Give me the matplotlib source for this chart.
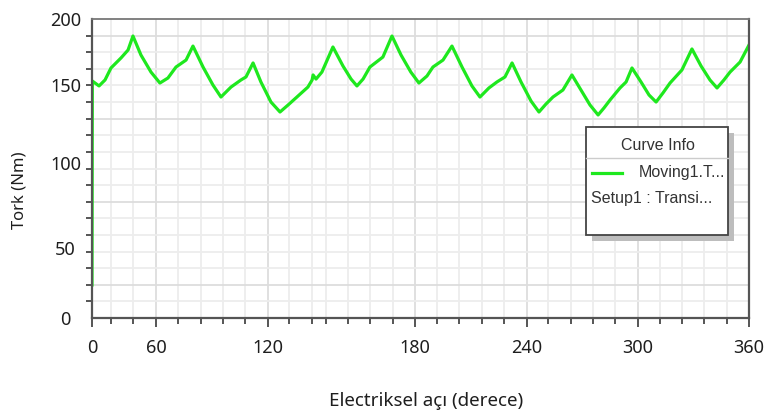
import numpy as np
import matplotlib.pyplot as plt
from matplotlib.patches import Rectangle
from matplotlib.lines import Line2D
from matplotlib.ticker import FixedLocator, NullFormatter

# electrical angle (deg) and torque (Nm), first sample is the start-up value
angle = [0.0, 0.3, 6.6, 12.2, 17.8, 27.2, 33.8, 38.4, 45.9, 55.3, 62.1, 66.4,
         70.7, 76.1, 79.8, 85.2, 90.5, 94.8, 100.2, 105.5, 108.2, 112.0, 116.2,
         121.2, 124.9, 128.2, 131.8, 136.3, 138.0, 138.4, 139.6, 142.0, 146.5,
         150.6, 153.9, 156.3, 158.8, 161.6, 166.9, 170.6, 174.3, 178.3, 182.1,
         186.4, 189.6, 195.0, 199.8, 205.2, 210.5, 214.8, 219.6, 223.9, 228.2,
         232.0, 236.8, 242.2, 246.5, 250.3, 254.1, 259.5, 264.4, 269.3, 274.2,
         278.6, 281.8, 285.1, 290.5, 293.8, 297.0, 301.9, 306.2, 310.0, 313.7,
         317.5, 323.9, 329.3, 334.2, 339.0, 342.8, 346.5, 349.8, 355.2, 360.0]
torque = [23.6, 153.0, 149.4, 153.8, 162.9, 170.5, 176.5, 187.1, 172.7, 159.8,
          151.5, 155.3, 163.6, 168.9, 179.5, 163.6, 150.0, 142.3, 148.7, 153.8,
          156.1, 166.7, 152.3, 139.1, 132.7, 137.2, 142.3, 148.7, 153.8, 157.6,
          154.5, 159.8, 178.8, 164.4, 154.5, 149.4, 154.5, 163.6, 171.2, 187.1,
          172.7, 159.8, 151.5, 156.8, 163.6, 168.9, 179.5, 163.6, 149.4, 142.3,
          148.1, 152.3, 156.1, 166.7, 152.3, 139.7, 132.7, 137.8, 142.3, 146.8,
          157.6, 146.8, 137.2, 130.8, 135.3, 140.4, 148.1, 152.3, 162.9, 152.3,
          143.6, 139.1, 144.9, 151.5, 161.4, 177.3, 164.4, 153.8, 148.1, 153.8,
          159.8, 167.4, 180.3]

x_ticks = [0, 60, 120, 180, 240, 300, 360]
y_ticks = [0, 50, 100, 150, 200]
legend_title = "Curve Info"
series_label = "Moving1.T..."
setup_label = "Setup1 : Transi..."

GREEN = '#1ee81e'
W, H = 769, 413

plt.rcParams['font.family'] = ['Noto Sans', 'DejaVu Sans']

fig = plt.figure(figsize=(W / 100, H / 100), dpi=100)
ax = fig.add_axes([92 / W, 1 - 318 / H, (749 - 92) / W, (318 - 19) / H])

# the labelled ticks are not evenly spaced, so map them onto pixel offsets
x_px = [0, 64, 176, 323, 435, 545.5, 657]
y_px = [0, 70, 155, 233, 299]


def fwd_x(v):
    return np.interp(v, x_ticks, x_px)


def inv_x(p):
    return np.interp(p, x_px, x_ticks)


def fwd_y(v):
    return np.interp(v, y_ticks, y_px)


def inv_y(p):
    return np.interp(p, y_px, y_ticks)


ax.set_xscale('function', functions=(fwd_x, inv_x))
ax.set_yscale('function', functions=(fwd_y, inv_y))
ax.set_xlim(0, 360)
ax.set_ylim(0, 200)

# background grid (pixel offsets from the lower-left corner)
x_minor_px = [19, 41.3, 86.3, 108.7, 130.7, 153, 197.3, 219.7, 234, 256.3, 278,
              300.7, 345.3, 367.3, 389.7, 412, 456.3, 478.7, 501.3, 523, 568,
              590.3, 612.3, 634.7]
y_grid_px = [i * 299 / 18 for i in range(19)]
x_minor = inv_x(np.array(x_minor_px))
y_grid = inv_y(np.array(y_grid_px))

for xv in x_minor:
    ax.axvline(xv, color='#ededed', lw=1.3, zorder=0)
for xv in x_ticks[1:-1]:
    ax.axvline(xv, color='#dddddd', lw=1.3, zorder=0)
for i, yv in enumerate(y_grid[1:-1], start=1):
    shade = '#dddddd' if i in (2, 7, 12, 17) else '#ededed'
    ax.axhline(yv, color=shade, lw=1.3, zorder=0)

ax.plot(angle, torque, color=GREEN, lw=2.3, zorder=2)

ax.xaxis.set_major_locator(FixedLocator(x_ticks))
ax.xaxis.set_minor_locator(FixedLocator(x_minor))
ax.yaxis.set_major_locator(FixedLocator(y_ticks))
ax.yaxis.set_minor_locator(FixedLocator(y_grid))
ax.xaxis.set_minor_formatter(NullFormatter())
ax.yaxis.set_minor_formatter(NullFormatter())

ax.tick_params(axis='x', which='major', length=6.5, width=1.4, color='#555555',
               labelsize=13, labelcolor='#1e1e1e', pad=8.5)
ax.tick_params(axis='x', which='minor', length=4, width=1.4, color='#555555')
ax.tick_params(axis='y', which='major', length=0, labelsize=13,
               labelcolor='#1e1e1e', pad=19)
ax.tick_params(axis='y', which='minor', length=4.3, width=1.4, color='#555555')
for lab in ax.get_yticklabels():
    lab.set_horizontalalignment('center')

for side in ['left', 'bottom', 'right']:
    ax.spines[side].set_color('#555555')
    ax.spines[side].set_linewidth(1.6)
ax.spines['top'].set_color('#777777')
ax.spines['top'].set_linewidth(1.3)

fig.text(20 / W, 1 - 190 / H, "Tork (Nm)", rotation=90, ha='center',
         va='center', fontsize=12, color='#1e1e1e')
fig.text(426 / W, 1 - 401 / H, "Electriksel açı (derece)", ha='center',
         va='center', fontsize=13.5, color='#1e1e1e')

# legend panel
shadow = Rectangle((592 / W, 1 - 241 / H), 142 / W, 108 / H,
                   transform=fig.transFigure, facecolor='#bdbdbd',
                   edgecolor='none', zorder=5)
box = Rectangle((586 / W, 1 - 235 / H), 142 / W, 108 / H,
                transform=fig.transFigure, facecolor='white',
                edgecolor='#444444', lw=1.3, zorder=6)
fig.add_artist(shadow)
fig.add_artist(box)
fig.add_artist(Line2D([586 / W, 728 / W], [1 - 157.5 / H] * 2, color='#cccccc',
                      lw=1, transform=fig.transFigure, zorder=7))
fig.add_artist(Line2D([592 / W, 622 / W], [1 - 173 / H] * 2, color=GREEN,
                      lw=2.3, transform=fig.transFigure, zorder=7))
leg_font = dict(family=['Liberation Sans', 'DejaVu Sans'], fontsize=11.5,
                color='#333333', zorder=7)
fig.text(657.5 / W, 1 - 146 / H, legend_title, ha='center', va='center',
         **leg_font)
t = fig.text(639 / W, 1 - 173 / H, series_label, ha='left', va='center',
             **leg_font)
t.set_clip_path(box)
fig.text(591 / W, 1 - 199 / H, setup_label, ha='left', va='center', **leg_font)

fig.savefig('out.png', dpi=100)
